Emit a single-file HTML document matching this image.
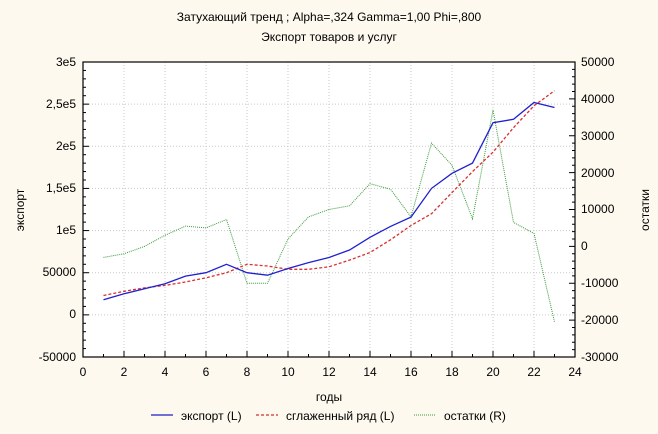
<!DOCTYPE html>
<html><head><meta charset="utf-8"><style>
body{margin:0;background:#fdf9ee;}
svg{display:block;font-family:"Liberation Sans","Noto Sans CJK SC",sans-serif;}
</style></head><body>
<svg id="s" width="658" height="434" viewBox="0 0 658 434" xmlns="http://www.w3.org/2000/svg">
<rect width="658" height="434" fill="#fdf9ee"/>
<rect x="83" y="62" width="492" height="295" fill="#fff"/>
<g id="grid" stroke="#c8c8c8" stroke-dasharray="1,2" stroke-width="1"></g>
<g id="ticks" stroke="#000" stroke-width="1"></g>
<rect x="83" y="62" width="492" height="295" fill="none" stroke="#000" stroke-width="1.2"/>
<g font-size="12" fill="#000">
<text x="329" y="21" text-anchor="middle">Затухающий тренд ; Alpha=,324 Gamma=1,00 Phi=,800</text>
<text x="329" y="41" text-anchor="middle">Экспорт товаров и услуг</text>
<g text-anchor="end">
<text x="76" y="66">3e5</text><text x="76" y="108">2,5e5</text><text x="76" y="150">2e5</text>
<text x="76" y="192">1,5e5</text><text x="76" y="234">1e5</text><text x="76" y="276">50000</text>
<text x="76" y="318">0</text><text x="76" y="361">-50000</text>
</g>
<g text-anchor="start">
<text x="581" y="66">50000</text><text x="581" y="103">40000</text><text x="581" y="140">30000</text>
<text x="581" y="177">20000</text><text x="581" y="213">10000</text><text x="581" y="250">0</text>
<text x="581" y="287">-10000</text><text x="581" y="324">-20000</text><text x="581" y="361">-30000</text>
</g>
<g text-anchor="middle">
<text x="83" y="376">0</text><text x="124" y="376">2</text><text x="165" y="376">4</text><text x="206" y="376">6</text>
<text x="247" y="376">8</text><text x="288" y="376">10</text><text x="329" y="376">12</text><text x="370" y="376">14</text>
<text x="411" y="376">16</text><text x="452" y="376">18</text><text x="493" y="376">20</text><text x="534" y="376">22</text><text x="575" y="376">24</text>
</g>
<text x="329" y="401" text-anchor="middle">годы</text>
<text transform="translate(24,210) rotate(-90)" text-anchor="middle">экспорт</text>
<text transform="translate(649,210) rotate(-90)" text-anchor="middle">остатки</text>
<text x="181" y="420">экспорт (L)</text>
<text x="286" y="420">сглаженный ряд (L)</text>
<text x="444" y="420">остатки (R)</text>
</g>
<line x1="151" y1="415" x2="173" y2="415" stroke="#2020c0" stroke-width="1.3"/>
<line x1="256" y1="415" x2="278" y2="415" stroke="#d03030" stroke-width="1.3" stroke-dasharray="3,2"/>
<line x1="414" y1="415" x2="436" y2="415" stroke="#3a9a3a" stroke-width="1" stroke-dasharray="1,1"/>
<polyline id="res" fill="none" stroke="#3a9a3a" stroke-width="1" stroke-dasharray="1,1"/>
<polyline id="sm" fill="none" stroke="#d83030" stroke-width="1.3" stroke-dasharray="3,2"/>
<polyline id="ex" fill="none" stroke="#2020d0" stroke-width="1.3"/>
</svg>
<script>
var X=function(t){return 83+t*20.5},L=function(v){return 357-(v+50000)*295/350000},R=function(v){return 357-(v+30000)*295/80000};
var ex=[18000,25000,31000,37000,46000,50000,60000,50000,47000,55000,62000,68000,77000,92000,105000,116000,150000,168000,180000,228000,232000,252000,246000];
var sm=[23000,28000,32000,35000,39000,44000,50000,60000,58000,54000,54000,57000,65000,74000,89000,106000,120000,145000,170000,193000,222000,248000,266000];
var rs=[-3000,-2000,0,3000,5500,5000,7300,-10000,-10000,2000,8000,10000,11000,17000,15500,8000,28000,22000,7500,37000,6500,3500,-20500];
function pts(a,f){return a.map(function(v,i){return X(i+1).toFixed(1)+","+f(v).toFixed(1)}).join(" ")}
document.getElementById("ex").setAttribute("points",pts(ex,L));
document.getElementById("sm").setAttribute("points",pts(sm,L));
document.getElementById("res").setAttribute("points",pts(rs,R));
var g=document.getElementById("grid"),tk=document.getElementById("ticks"),h="",t="";
for(var i=2;i<24;i+=2){h+='<line x1="'+X(i)+'" y1="62" x2="'+X(i)+'" y2="357"/>';}
for(var v=0;v<300000;v+=50000){h+='<line x1="83" y1="'+L(v)+'" x2="575" y2="'+L(v)+'"/>';}
g.innerHTML=h;
for(var i=1;i<24;i++){var x=X(i);t+='<line x1="'+x+'" y1="357" x2="'+x+'" y2="'+(i%2?354:351)+'"/>';}
for(var v=-50000;v<=300000;v+=10000){var y=L(v);t+='<line x1="83" y1="'+y+'" x2="'+(v%50000?86:89)+'" y2="'+y+'"/>';}
for(var v=-30000;v<=50000;v+=2000){var y=R(v);t+='<line x1="575" y1="'+y+'" x2="'+(v%10000?572:569)+'" y2="'+y+'"/>';}
tk.innerHTML=t;
</script>
</body></html>
